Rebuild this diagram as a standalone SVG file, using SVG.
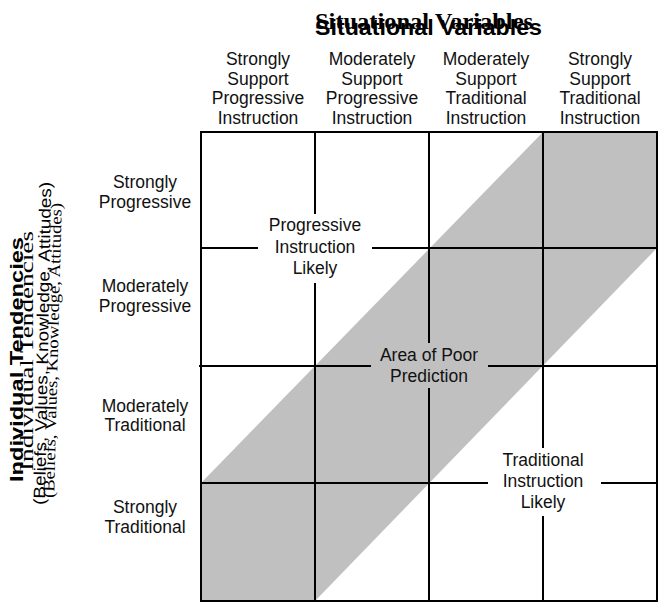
<svg xmlns="http://www.w3.org/2000/svg" width="659" height="606" viewBox="0 0 659 606">
<style>
.t{font-family:"Liberation Sans",Arial,sans-serif;font-size:17.5px;fill:#111;text-anchor:middle}
.ln{stroke:#000;stroke-width:2;fill:none;stroke-linecap:square}
.ttl{font-family:"Liberation Sans",Arial,sans-serif;font-weight:bold;fill:#000}
.ttls{font-family:"Liberation Serif","Times New Roman",serif;font-weight:bold;fill:#000}
.sub{font-family:"Liberation Sans",Arial,sans-serif;fill:#000}
.subs{font-family:"Liberation Serif","Times New Roman",serif;fill:#000}
</style>
<rect width="659" height="606" fill="#fff"/>
<g id="band">
<polygon points="201,483 543,132 657,132 657,248 315,601 201,601" fill="#c0c0c0"/>
</g>
<g id="grid-lines">
<path class="ln" d="M201,132H657V601H201Z"/>
<path class="ln" d="M315,132V213M315,284V601"/>
<path class="ln" d="M429,132V342M429,389V601"/>
<path class="ln" d="M543,132V447M543,517V601"/>
<path class="ln" d="M201,248H257M373,248H657"/>
<path class="ln" d="M200,366H370M489,366H657"/>
<path class="ln" d="M201,483H487M602,483H657"/>
</g>
<g id="title">
<text class="ttls" x="315" y="29" font-size="22.5" textLength="218" lengthAdjust="spacingAndGlyphs">Situational Variables</text>
<text class="ttl" x="315" y="35" font-size="22" textLength="227" lengthAdjust="spacingAndGlyphs">Situational Variables</text>
</g>
<g id="axis-label">
<text class="ttl" transform="translate(23,482) rotate(-90)" font-size="18.5" textLength="245" lengthAdjust="spacingAndGlyphs">Individual Tendencies</text>
<text class="ttls" style="font-weight:normal" transform="translate(32.5,471) rotate(-90)" font-size="18" textLength="240" lengthAdjust="spacingAndGlyphs">Individual Tendencies</text>
<text class="sub" transform="translate(45,505) rotate(-88.9)" font-size="16.5" textLength="323" lengthAdjust="spacingAndGlyphs">(Beliefs, Values, Knowledge, Attitudes)</text>
<text class="subs" transform="translate(54,498) rotate(-88.5)" font-size="16" textLength="295" lengthAdjust="spacingAndGlyphs">(Beliefs, Values, Knowledge, Attitudes)</text>
</g>
<g id="col1"><text class="t" x="258" y="65">Strongly</text><text class="t" x="258" y="84.5">Support</text><text class="t" x="258" y="104">Progressive</text><text class="t" x="258" y="123.5">Instruction</text></g>
<g id="col2"><text class="t" x="372" y="65">Moderately</text><text class="t" x="372" y="84.5">Support</text><text class="t" x="372" y="104">Progressive</text><text class="t" x="372" y="123.5">Instruction</text></g>
<g id="col3"><text class="t" x="486" y="65">Moderately</text><text class="t" x="486" y="84.5">Support</text><text class="t" x="486" y="104">Traditional</text><text class="t" x="486" y="123.5">Instruction</text></g>
<g id="col4"><text class="t" x="600" y="65">Strongly</text><text class="t" x="600" y="84.5">Support</text><text class="t" x="600" y="104">Traditional</text><text class="t" x="600" y="123.5">Instruction</text></g>
<g id="row1"><text class="t" x="145" y="188">Strongly</text><text class="t" x="145" y="207.5">Progressive</text></g>
<g id="row2"><text class="t" x="145" y="292">Moderately</text><text class="t" x="145" y="311.5">Progressive</text></g>
<g id="row3"><text class="t" x="145" y="411.5">Moderately</text><text class="t" x="145" y="431">Traditional</text></g>
<g id="row4"><text class="t" x="145" y="513">Strongly</text><text class="t" x="145" y="532.5">Traditional</text></g>
<g id="progressive-likely"><text class="t" x="315" y="231">Progressive</text><text class="t" x="315" y="252.5">Instruction</text><text class="t" x="315" y="273.5">Likely</text></g>
<g id="poor-prediction"><text class="t" x="429" y="361">Area of Poor</text><text class="t" x="429" y="382">Prediction</text></g>
<g id="traditional-likely"><text class="t" x="543" y="466">Traditional</text><text class="t" x="543" y="487">Instruction</text><text class="t" x="543" y="508">Likely</text></g>
</svg>
